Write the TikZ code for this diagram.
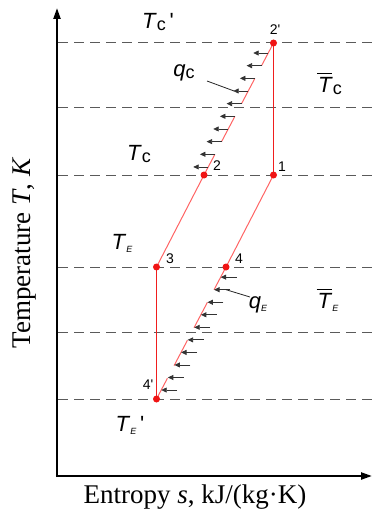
\documentclass[tikz,border=0pt]{standalone}
\usepackage{fontspec}
\setmainfont{Liberation Serif}
\newfontfamily\arialf{Liberation Sans}[Ligatures=TeXOff]
\usetikzlibrary{arrows.meta,calc}
\definecolor{ptred}{RGB}{240,20,20}
\definecolor{linered}{RGB}{240,30,30}
\definecolor{slantred}{RGB}{255,100,100}
\definecolor{dashgray}{RGB}{90,90,90}
\newcommand{\subc}{\raisebox{-2pt}{\fontsize{18}{18}\selectfont c}}
\newcommand{\subE}{\raisebox{-3pt}{\fontsize{9}{9}\selectfont\itshape E}}
\newcommand{\barT}{\leavevmode\rlap{\hspace{-1pt}\rule[18pt]{15pt}{1.1pt}}\textit{T}}
\tikzset{
 pt/.style={circle,fill=ptred,inner sep=0pt,minimum size=7pt},
 dashln/.style={draw=dashgray,line width=1pt,dash pattern=on 10pt off 6pt},
 axis/.style={line width=2.2pt,-{Triangle[length=11pt,width=7pt]}},
 vred/.style={draw=linered,line width=1.2pt},
 sred/.style={draw=slantred,line width=1pt},
 harr/.style={draw=black!80,line width=0.8pt,-{Triangle[length=5.5pt,width=5pt]}},
 leader/.style={draw=black!85,line width=0.8pt},
 tlab/.style={font=\arialf\fontsize{22}{22}\selectfont,inner sep=0pt},
 nlab/.style={font=\arialf\fontsize{14}{14}\selectfont,inner sep=0pt},
 axlab/.style={font=\fontsize{27}{27}\selectfont,inner sep=0pt},
}
\begin{document}
\begin{tikzpicture}[x=1pt,y=-1pt]
\useasboundingbox (0,0) rectangle (372,513);
% axes
\coordinate (O) at (57,476);
\coordinate (ytop) at (57,8);
\coordinate (xend) at (372,476);
\draw[axis] ($(O)+(0,1.1)$) -- (ytop);
\draw[axis] ($(O)+(-1.1,0)$) -- (xend);
% dashed levels
\foreach \y in {43,108,175,267,332,399} \draw[dashln] (58,\y) -- (372,\y);
% state points
\coordinate (p2p) at (273.5,43);
\coordinate (p1) at (273.5,175);
\coordinate (p2) at (204,175);
\coordinate (p3) at (156.5,267);
\coordinate (p4) at (226,267);
\coordinate (p4p) at (156.5,399);
% cycle lines
\draw[vred] (p2p) -- (p1);
\draw[vred] (p3) -- (p4p);
\draw[sred] (p1) -- (p4);
\draw[sred] (p2) -- (p3);
\foreach \a/\b in {0/0.157,0.253/0.445,0.540/0.732,0.828/1}{
  \draw[sred] ($(p2)!\a!(p2p)$) -- ($(p2)!\b!(p2p)$);
  \draw[sred] ($(p4p)!\a!(p4)$) -- ($(p4p)!\b!(p4)$);
}
% heat arrows
\foreach \k in {0,...,9}{
  \pgfmathsetmacro\tc{0.061+0.0959*\k}
  \draw[harr] ($(p2)!\tc!(p2p)$) -- ($(p2)!\tc!(p2p)+(-15,0)$);
  \pgfmathsetmacro\te{0.068+0.095*\k}
  \draw[harr] ($(p4p)!\te!(p4)+(16,0)$) -- ($(p4p)!\te!(p4)$);
}
% dots
\foreach \p in {p2p,p1,p2,p3,p4,p4p} \node[pt] (d\p) at (\p) {};
% labels
\node[tlab] (Tcp) at (158,22) {\textit{T}\subc\,'};
\node[tlab] (qc) at (184,73) {\textit{q}\subc};
\node[tlab] (Tcbar) at (330,84) {\barT\subc};
\node[tlab] (Tc) at (139,154) {\textit{T}\subc};
\node[tlab] (TE) at (122,243) {\textit{T}\subE};
\node[tlab] (TEbar) at (328,300) {\barT\subE};
\node[tlab] (qE) at (258,305) {\textit{q}\subE};
\node[tlab] (TEp) at (130,425) {\textit{T}\subE\,'};
\node[nlab] (l2p) at (275,30) {2'};
\node[nlab] (l1) at (282,167) {1};
\node[nlab] (l2) at (217,166) {2};
\node[nlab] (l3) at (170,259) {3};
\node[nlab] (l4) at (239,259) {4};
\node[nlab] (l4p) at (148,385) {4'};
% leaders
\coordinate (qcend) at ($(p2)!0.636!(p2p)+(-14,0)$);
\draw[leader] ($(qc)+(23,8)$) -- (qcend);
\coordinate (qEend) at ($(p4p)!0.828!(p4)+(12,0)$);
\draw[leader] ($(qE)+(-8,-8)$) -- (qEend);
% axis labels
\node[axlab,rotate=90] (ylab) at (25,253) {Temperature \textit{T}, \textit{K}};
\node[axlab] (xlab) at (195,497) {Entropy \textit{s}, kJ/(kg·K)};
\end{tikzpicture}
\end{document}
